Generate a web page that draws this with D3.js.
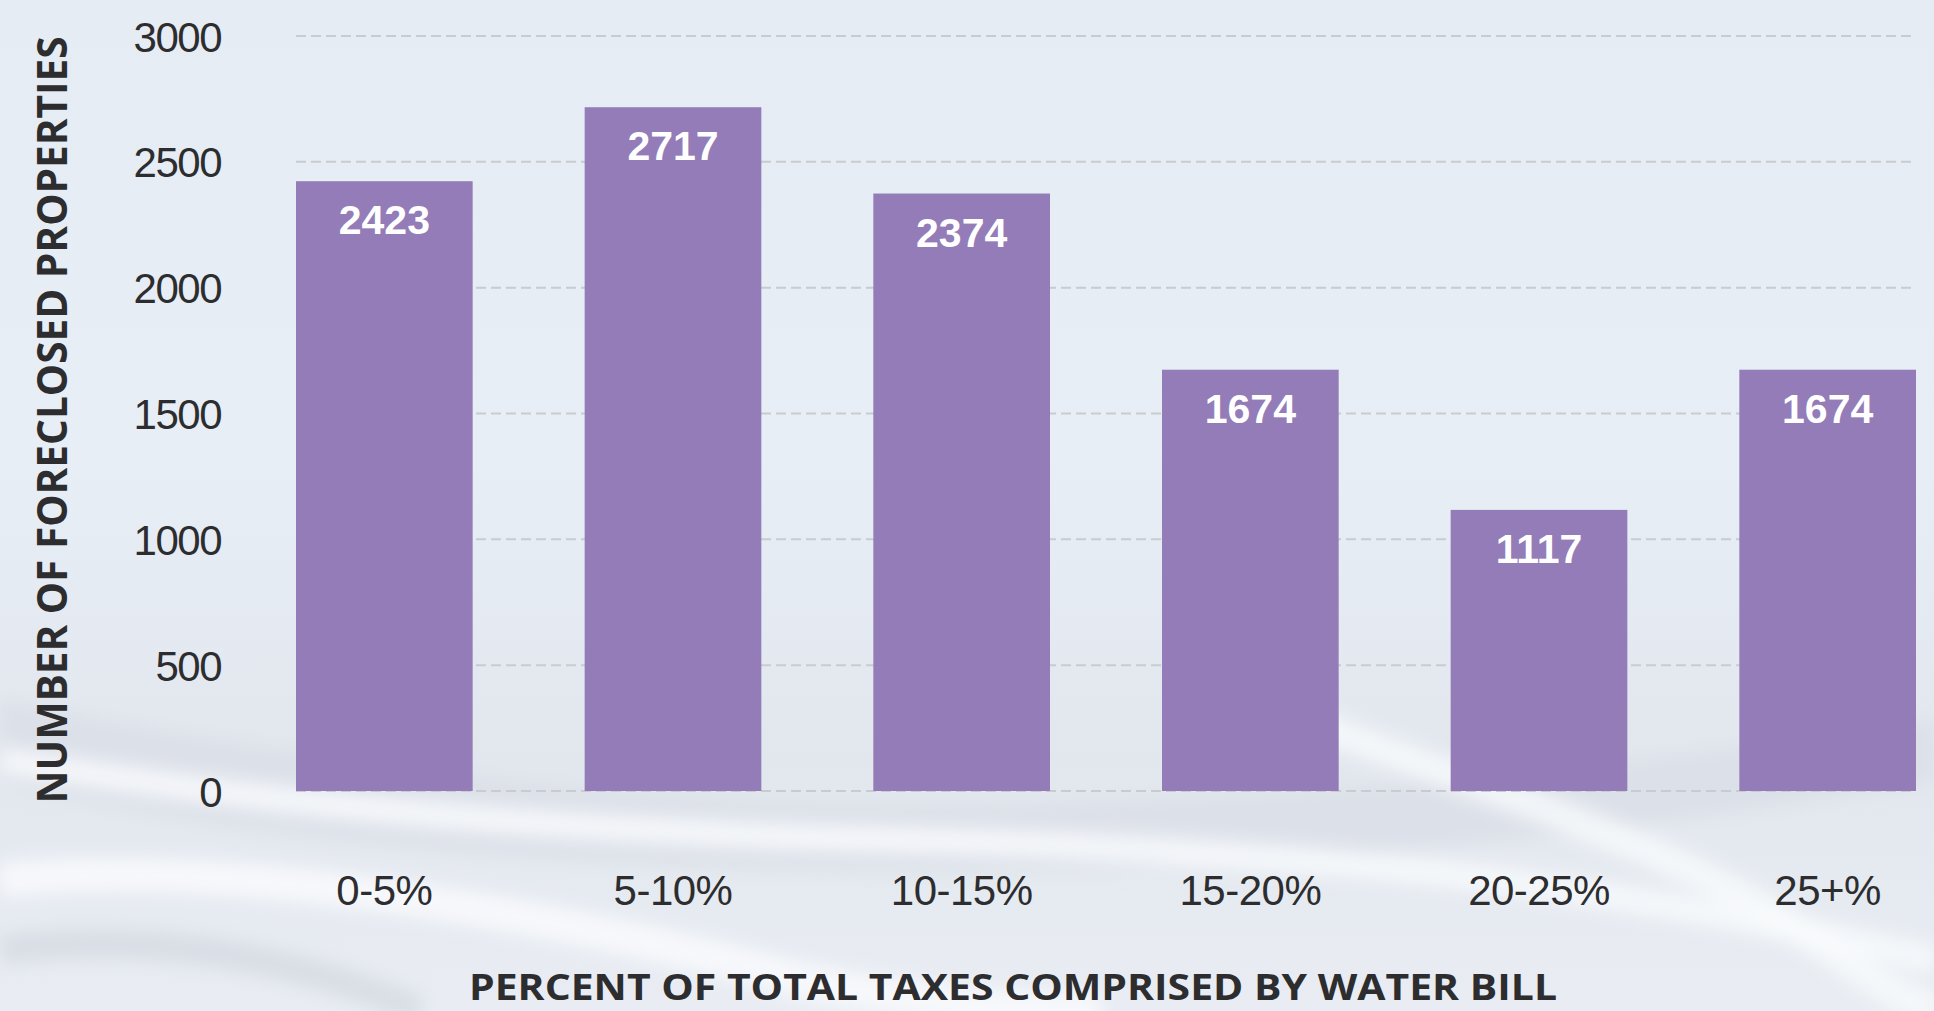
<!DOCTYPE html>
<html>
<head>
<meta charset="utf-8">
<script src="https://cdn.jsdelivr.net/npm/d3@7"></script>
<style>
	html, body { margin: 0; padding: 0; overflow: hidden; }
	svg { display: block; }
</style>
</head>
<body>
<svg id="chart" width="1934" height="1011"></svg>
<script>

//DATA
var categories = ["0-5%", "5-10%", "10-15%", "15-20%", "20-25%", "25+%"];
var counts = [2423, 2717, 2374, 1674, 1117, 1674];
var yTicks = [0, 500, 1000, 1500, 2000, 2500, 3000];
var xTitle = "PERCENT OF TOTAL TAXES COMPRISED BY WATER BILL";
var yTitle = "NUMBER OF FORECLOSED PROPERTIES";

var svg = d3.select("#chart");
var W = 1934, H = 1011;

//BACKGROUND (pale water)
var defs = svg.append("defs");

var bg = defs.append("linearGradient")
	.attr("id", "bg")
	.attr("x1", 0).attr("y1", 0).attr("x2", 0).attr("y2", 1);
bg.append("stop").attr("offset", "0%").attr("stop-color", "#e5ecf3");
bg.append("stop").attr("offset", "45%").attr("stop-color", "#e8eef6");
bg.append("stop").attr("offset", "75%").attr("stop-color", "#e2e7ee");
bg.append("stop").attr("offset", "100%").attr("stop-color", "#e9edf3");

defs.append("filter")
	.attr("id", "blur")
	.attr("x", "-20%").attr("y", "-20%").attr("width", "140%").attr("height", "140%")
	.append("feGaussianBlur")
	.attr("stdDeviation", 9);

svg.append("rect")
	.attr("width", W)
	.attr("height", H)
	.attr("fill", "url(#bg)");

//soft ripples, just decoration
var ripples = svg.append("g").attr("filter", "url(#blur)");
ripples.append("path")
	.attr("d", "M0,700 C300,760 700,820 1100,800 C1400,790 1700,760 1934,720 L1934,780 C1600,840 1200,880 800,870 C400,860 150,820 0,780 Z")
	.attr("fill", "#d8dde5").attr("opacity", 0.7);
ripples.append("path")
	.attr("d", "M0,760 C250,800 500,830 900,840 C1300,850 1600,880 1934,960")
	.attr("fill", "none").attr("stroke", "#f7f9fc").attr("stroke-width", 26).attr("opacity", 0.9);
ripples.append("path")
	.attr("d", "M0,880 C200,860 500,900 800,980 C950,1010 1050,1011 1100,1011")
	.attr("fill", "none").attr("stroke", "#f8fafd").attr("stroke-width", 34).attr("opacity", 0.9);
ripples.append("path")
	.attr("d", "M1250,700 C1400,760 1600,820 1750,900 C1820,940 1880,990 1934,1011")
	.attr("fill", "none").attr("stroke", "#f9fbfd").attr("stroke-width", 30).attr("opacity", 0.8);
ripples.append("path")
	.attr("d", "M0,950 C150,930 300,960 420,1011")
	.attr("fill", "none").attr("stroke", "#cfd5de").attr("stroke-width", 30).attr("opacity", 0.6);

//LAYOUT
var x0 = 296, x1 = 1916;
var yTop = 36, yBottom = 791;

var xScale = d3.scaleBand()
	.domain(categories)
	.range([x0, x1])
	.paddingInner(0.388)
	.paddingOuter(0);

var yScale = d3.scaleLinear()
	.domain([0, 3000])
	.range([yBottom, yTop]);

var g = svg.append("g").attr("class", "barchart");

//gridlines
g.append("g")
	.attr("class", "grid")
	.selectAll("line")
	.data(yTicks)
	.enter()
	.append("line")
	.attr("x1", x0)
	.attr("x2", x1)
	.attr("y1", d => yScale(d))
	.attr("y2", d => yScale(d))
	.attr("stroke", "#c9cbce")
	.attr("stroke-width", 2)
	.attr("stroke-dasharray", "10,5");

//y axis, only the labels are visible
var yAxis = d3.axisLeft(yScale)
	.tickValues(yTicks)
	.tickFormat(d3.format("d"))
	.tickSize(0)
	.tickPadding(0);

var yAxisG = g.append("g")
	.attr("class", "yAxis")
	.attr("transform", "translate(221,0)")
	.call(yAxis);
yAxisG.select(".domain").remove();
yAxisG.selectAll("text")
	.attr("font-family", "'Liberation Sans', Arial, sans-serif")
	.attr("font-size", 42)
	.attr("letter-spacing", "-1.5px")
	.attr("fill", "#2d2d2f")
	.attr("dy", "0.36em");

//bars
g.selectAll("rect.bar")
	.data(categories)
	.enter()
	.append("rect")
	.attr("class", "bar")
	.attr("x", d => xScale(d))
	.attr("y", (d, i) => yScale(counts[i]))
	.attr("width", xScale.bandwidth())
	.attr("height", (d, i) => yBottom - yScale(counts[i]))
	.attr("fill", "#937cb8");

//values inside the bars
g.selectAll("text.value")
	.data(categories)
	.enter()
	.append("text")
	.attr("class", "value")
	.attr("x", d => xScale(d) + xScale.bandwidth() / 2)
	.attr("y", (d, i) => yScale(counts[i]) + 53)
	.attr("text-anchor", "middle")
	.attr("font-family", "'Liberation Sans', Arial, sans-serif")
	.attr("font-weight", "bold")
	.attr("font-size", 41)
	.attr("fill", "white")
	.text((d, i) => counts[i]);

//x axis, labels only
var xAxis = d3.axisBottom(xScale)
	.tickSize(0)
	.tickPadding(0);

var xAxisG = g.append("g")
	.attr("class", "xAxis")
	.attr("transform", "translate(0,905)")
	.call(xAxis);
xAxisG.select(".domain").remove();
xAxisG.selectAll("text")
	.attr("font-family", "'Liberation Sans', Arial, sans-serif")
	.attr("font-size", 42)
	.attr("letter-spacing", "-0.5px")
	.attr("fill", "#2d2d2f")
	.attr("dy", 0);

//axis titles
svg.append("text")
	.attr("x", 1013)
	.attr("y", 1000)
	.attr("text-anchor", "middle")
	.attr("font-family", "'Open Sans', 'Noto Sans', sans-serif")
	.attr("font-weight", "bold")
	.attr("font-size", 35)
	.attr("fill", "#2d2d2f")
	.attr("textLength", 1088)
	.attr("lengthAdjust", "spacingAndGlyphs")
	.text(xTitle);

svg.append("text")
	.attr("transform", "translate(67,420) rotate(-90)")
	.attr("text-anchor", "middle")
	.attr("font-family", "'Open Sans', 'Noto Sans', sans-serif")
	.attr("font-weight", "bold")
	.attr("font-size", 41)
	.attr("fill", "#2d2d2f")
	.attr("textLength", 767)
	.attr("lengthAdjust", "spacingAndGlyphs")
	.text(yTitle);

</script>
</body>
</html>
